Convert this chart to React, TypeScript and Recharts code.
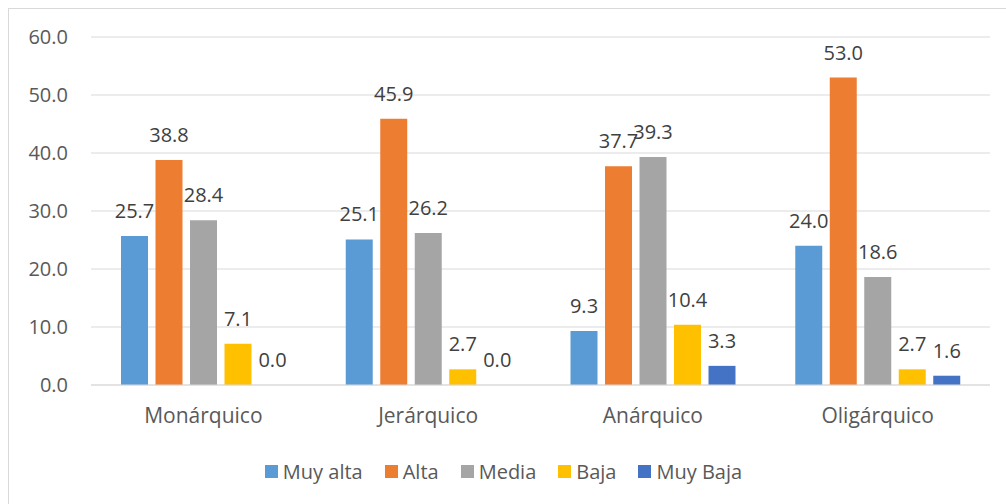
import React from "react";
import { BarChart, Bar, XAxis, YAxis, CartesianGrid, Legend, LabelList } from "recharts";

const categories = ["Monárquico", "Jerárquico", "Anárquico", "Oligárquico"];
const muyAlta = [25.7, 25.1, 9.3, 24.0];
const alta = [38.8, 45.9, 37.7, 53.0];
const media = [28.4, 26.2, 39.3, 18.6];
const baja = [7.1, 2.7, 10.4, 2.7];
const muyBaja = [0.0, 0.0, 3.3, 1.6];
const yTicks = [0, 10, 20, 30, 40, 50, 60];

const seriesDefs = [
  { key: "muyAlta", name: "Muy alta", color: "#5B9BD5", values: muyAlta },
  { key: "alta", name: "Alta", color: "#ED7D31", values: alta },
  { key: "media", name: "Media", color: "#A5A5A5", values: media },
  { key: "baja", name: "Baja", color: "#FFC000", values: baja },
  { key: "muyBaja", name: "Muy Baja", color: "#4472C4", values: muyBaja },
];

const data = categories.map((c, i) => {
  const row: Record<string, string | number> = { category: c };
  seriesDefs.forEach((s) => {
    row[s.key] = s.values[i];
  });
  return row;
});

const FONT = "'Open Sans', 'Noto Sans', sans-serif";

const LegendContent = () => (
  <div
    style={{
      display: "flex",
      justifyContent: "center",
      alignItems: "center",
      height: 30,
      paddingLeft: 8,
      fontFamily: FONT,
      fontSize: 20,
      color: "#595959",
    }}
  >
    {seriesDefs.map((s, i) => (
      <div
        key={s.key}
        style={{ display: "flex", alignItems: "center", marginRight: i === seriesDefs.length - 1 ? 0 : 22 }}
      >
        <span style={{ width: 13, height: 13, background: s.color, display: "inline-block", marginRight: 5 }} />
        <span>{s.name}</span>
      </div>
    ))}
  </div>
);

export default function App() {
  return (
    <div
      style={{
        position: "fixed",
        left: 8,
        top: 8,
        width: 998,
        height: 500,
        borderLeft: "1px solid #D9D9D9",
        borderTop: "1px solid #D9D9D9",
        background: "#fff",
        overflow: "hidden",
      }}
    >
      <BarChart
        width={997}
        height={500}
        data={data}
        margin={{ top: 28, right: 16, bottom: 23, left: 0 }}
        barSize={27}
        barGap={7.5}
      >
        <CartesianGrid vertical={false} stroke="#D9D9D9" strokeWidth={1.2} />
        <XAxis
          dataKey="category"
          axisLine={{ stroke: "#D9D9D9", strokeWidth: 1.2 }}
          tickLine={false}
          tickSize={0}
          tickMargin={23}
          height={71}
          tick={{ fill: "#595959", fontSize: 21, fontFamily: FONT }}
          interval={0}
        />
        <YAxis
          domain={[0, 60]}
          ticks={yTicks}
          width={82}
          axisLine={false}
          tickLine={false}
          tickSize={0}
          tickMargin={23}
          tickFormatter={(v: number) => v.toFixed(1)}
          tick={{ fill: "#595959", fontSize: 20, fontFamily: FONT }}
        />
        <Legend verticalAlign="bottom" height={30} content={<LegendContent />} />
        {seriesDefs.map((s) => (
          <Bar
            key={s.key}
            dataKey={s.key}
            name={s.name}
            fill={s.color}
            minPointSize={0.01}
            isAnimationActive={false}
          >
            <LabelList
              dataKey={s.key}
              position="top"
              offset={18}
              formatter={(v: number) => Number(v).toFixed(1)}
              style={{ fill: "#404040", fontSize: 20, fontFamily: FONT }}
            />
          </Bar>
        ))}
      </BarChart>
    </div>
  );
}
